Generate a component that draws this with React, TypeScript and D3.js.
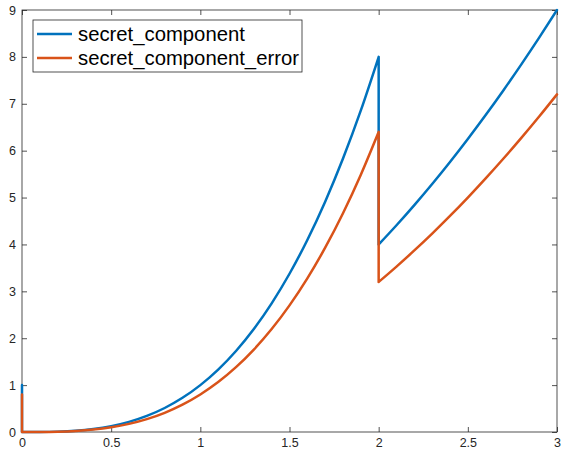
import React, { useEffect, useRef } from 'react';
import * as d3 from 'd3';

// values, x step 0.1
const xsLow = [0, 0.1, 0.2, 0.3, 0.4, 0.5, 0.6, 0.7, 0.8, 0.9, 1.0, 1.1, 1.2, 1.3, 1.4, 1.5, 1.6, 1.7, 1.8, 1.9, 2.0];
const xsHigh = [2.0, 2.1, 2.2, 2.3, 2.4, 2.5, 2.6, 2.7, 2.8, 2.9, 3.0];

const secretLow = [0, 0.001, 0.008, 0.027, 0.064, 0.125, 0.216, 0.343, 0.512, 0.729, 1.0, 1.331, 1.728, 2.197, 2.744, 3.375, 4.096, 4.913, 5.832, 6.859, 8.0];
const secretHigh = [4.0, 4.41, 4.84, 5.29, 5.76, 6.25, 6.76, 7.29, 7.84, 8.41, 9.0];
const secretStart = 1.0;

const errorLow = [0, 0.0008, 0.0064, 0.0216, 0.0512, 0.1, 0.1728, 0.2744, 0.4096, 0.5832, 0.8, 1.0648, 1.3824, 1.7576, 2.1952, 2.7, 3.2768, 3.9304, 4.6656, 5.4872, 6.4];
const errorHigh = [3.2, 3.528, 3.872, 4.232, 4.608, 5.0, 5.408, 5.832, 6.272, 6.728, 7.2];
const errorStart = 0.8;

const xTicks = [0, 0.5, 1, 1.5, 2, 2.5, 3];
const yTicks = [0, 1, 2, 3, 4, 5, 6, 7, 8, 9];

const seriesNames = ['secret_component', 'secret_component_error'];
const colors = ['#0072BD', '#D95319'];

type Pt = [number, number];

const App = () => {
  const ref = useRef<SVGSVGElement>(null);

  useEffect(() => {
    const svg = d3.select(ref.current);
    svg.selectAll('*').remove();

    const W = 562, H = 452;
    const left = 22, right = 557, top = 10, bottom = 432;

    const x = d3.scaleLinear().domain([0, 3]).range([left, right]);
    const y = d3.scaleLinear().domain([0, 9]).range([bottom, top]);

    const axisColor = '#262626';
    const font = 'Liberation Sans, Arial, Helvetica, sans-serif';

    svg.append('rect').attr('width', W).attr('height', H).attr('fill', '#fff');

    // box
    svg.append('rect')
      .attr('x', left).attr('y', top)
      .attr('width', right - left).attr('height', bottom - top)
      .attr('fill', 'none').attr('stroke', axisColor).attr('stroke-width', 0.8);

    const tick = 5;
    const styleAxis = (g: any) => {
      g.select('.domain').remove();
      g.selectAll('line').attr('stroke', axisColor).attr('stroke-width', 0.8);
      g.selectAll('text').attr('fill', axisColor).attr('font-family', font).attr('font-size', 12.5);
    };

    svg.append('g').attr('transform', `translate(0,${bottom})`)
      .call(d3.axisBottom(x).tickValues(xTicks).tickSize(-tick).tickPadding(6).tickFormat(d3.format('')))
      .call(styleAxis);
    svg.append('g').attr('transform', `translate(0,${top})`)
      .call(d3.axisTop(x).tickValues(xTicks).tickSize(-tick).tickFormat(() => ''))
      .call(styleAxis);
    svg.append('g').attr('transform', `translate(${left},0)`)
      .call(d3.axisLeft(y).tickValues(yTicks).tickSize(-tick).tickPadding(6).tickFormat(d3.format('d')))
      .call(styleAxis);
    svg.append('g').attr('transform', `translate(${right},0)`)
      .call(d3.axisRight(y).tickValues(yTicks).tickSize(-tick).tickFormat(() => ''))
      .call(styleAxis);

    const straight = d3.line<Pt>().x(d => x(d[0])).y(d => y(d[1]));
    const smooth = d3.line<Pt>().x(d => x(d[0])).y(d => y(d[1])).curve(d3.curveMonotoneX);

    const series = [
      { start: secretStart, low: secretLow, high: secretHigh },
      { start: errorStart, low: errorLow, high: errorHigh },
    ];

    series.forEach((s, i) => {
      const lowPts: Pt[] = xsLow.map((v, j) => [v, s.low[j]]);
      const highPts: Pt[] = xsHigh.map((v, j) => [v, s.high[j]]);
      const d = [
        straight([[0, s.start], lowPts[0]]),
        smooth(lowPts),
        straight([lowPts[lowPts.length - 1], highPts[0]]),
        smooth(highPts),
      ].join('');
      svg.append('path')
        .attr('d', d)
        .attr('fill', 'none')
        .attr('stroke', colors[i])
        .attr('stroke-width', 2.5)
        .attr('stroke-linejoin', 'round')
        .attr('stroke-linecap', 'round');
    });

    // legend
    const lg = svg.append('g').attr('transform', 'translate(33,20)');
    lg.append('rect')
      .attr('width', 269).attr('height', 52)
      .attr('fill', '#fff').attr('stroke', axisColor).attr('stroke-width', 0.8);
    seriesNames.forEach((name, i) => {
      const cy = 14 + i * 24;
      lg.append('line')
        .attr('x1', 4).attr('x2', 39).attr('y1', cy).attr('y2', cy)
        .attr('stroke', colors[i]).attr('stroke-width', 2.5);
      lg.append('text')
        .attr('x', 45).attr('y', cy).attr('dy', '0.35em')
        .attr('font-family', font).attr('font-size', 20.3)
        .attr('fill', '#000')
        .text(name);
    });
  }, []);

  return (
    <svg ref={ref} width={562} height={452} style={{ position: 'absolute', left: 0, top: 0 }} />
  );
};

export default App;
